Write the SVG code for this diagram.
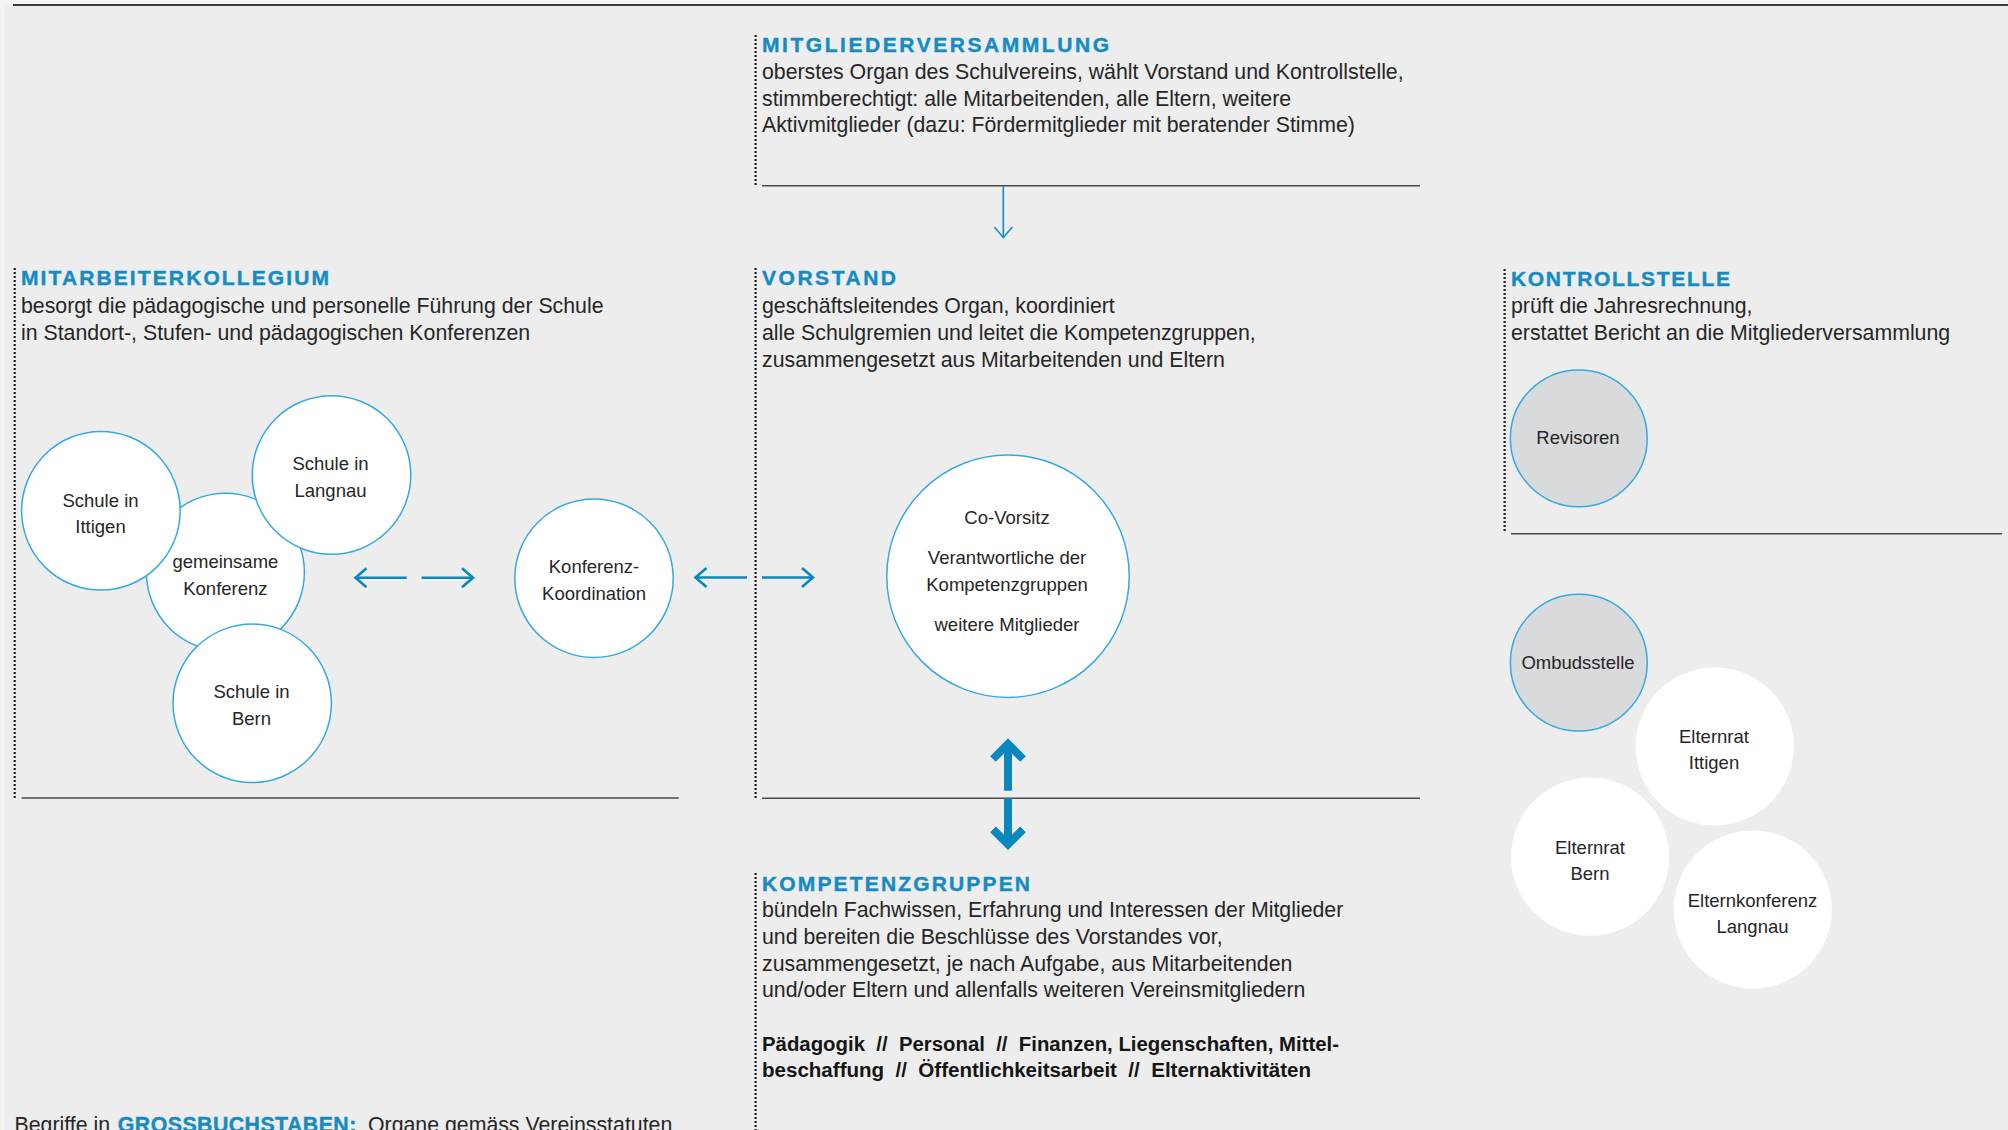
<svg xmlns="http://www.w3.org/2000/svg" width="2008" height="1130" viewBox="0 0 2008 1130">
<style>
.t{font-family:"Liberation Sans",Arial,sans-serif;font-size:21.3px;fill:#262626}
.h{font-family:"Liberation Sans",Arial,sans-serif;font-size:21px;font-weight:bold;fill:#168BC2;stroke:#168BC2;stroke-width:0.4}
.b{font-family:"Liberation Sans",Arial,sans-serif;font-size:20px;font-weight:bold;fill:#151515}
.c{font-family:"Liberation Sans",Arial,sans-serif;font-size:18.5px;fill:#262626;text-anchor:middle}
.circ{fill:#fff;stroke:#36A9E1;stroke-width:1.5}
.grey{fill:#D9DADC;stroke:#36A9E1;stroke-width:1.5}
.plain{fill:#fff}
.dot{stroke:#1e1e1e;stroke-width:2.2;stroke-dasharray:2 2;fill:none}
.rule{stroke:#4a4a4a;stroke-width:1.6}
.arr{stroke:#0A88BE;stroke-width:2.6;fill:none}
.thin{stroke:#1A90C9;stroke-width:1.7;fill:none}
.thick{stroke:#0A88BE;stroke-width:8;fill:none;stroke-linejoin:miter}
</style>
<defs>
<marker id="chev" viewBox="-14 -12 16 24" refX="0" refY="0" markerWidth="16" markerHeight="24" markerUnits="userSpaceOnUse" orient="auto" overflow="visible">
<path d="M-11,-9.5 L0,0 L-11,9.5" fill="none" stroke="#0A88BE" stroke-width="2.6"/>
</marker>
<marker id="chevS" viewBox="-12 -11 14 22" refX="0" refY="0" markerWidth="14" markerHeight="22" markerUnits="userSpaceOnUse" orient="auto" overflow="visible">
<path d="M-10.5,-9 L0,0 L-10.5,9" fill="none" stroke="#1A90C9" stroke-width="1.7"/>
</marker>
</defs>

<rect x="0" y="0" width="2008" height="1130" fill="#F4F4F4"/>
<rect x="4.5" y="4" width="2004" height="1126" fill="#ECEDEC"/>
<line x1="13" y1="5" x2="2008" y2="5" stroke="#3c3c3c" stroke-width="2"/>

<g id="mitgliederversammlung">
<line class="dot" x1="755.6" y1="35" x2="755.6" y2="186"/>
<text class="h" x="762" y="51.7" textLength="347" lengthAdjust="spacing">MITGLIEDERVERSAMMLUNG</text>
<text class="t" x="762" y="78.8">oberstes Organ des Schulvereins, wählt Vorstand und Kontrollstelle,</text>
<text class="t" x="762" y="105.5">stimmberechtigt: alle Mitarbeitenden, alle Eltern, weitere</text>
<text class="t" x="762" y="132.2">Aktivmitglieder (dazu: Fördermitglieder mit beratender Stimme)</text>
<line class="rule" x1="762" y1="185.7" x2="1420" y2="185.7"/>
</g>

<g id="mitarbeiterkollegium">
<line class="dot" x1="14.7" y1="268" x2="14.7" y2="798"/>
<text class="h" x="21" y="285" textLength="308" lengthAdjust="spacing">MITARBEITERKOLLEGIUM</text>
<text class="t" x="21" y="313.3">besorgt die pädagogische und personelle Führung der Schule</text>
<text class="t" x="21" y="340">in Standort-, Stufen- und pädagogischen Konferenzen</text>
<line class="rule" x1="21.5" y1="798" x2="678.7" y2="798"/>
</g>

<g id="vorstand">
<line class="dot" x1="755.6" y1="268" x2="755.6" y2="798"/>
<text class="h" x="762" y="285" textLength="134" lengthAdjust="spacing">VORSTAND</text>
<text class="t" x="762" y="313.3">geschäftsleitendes Organ, koordiniert</text>
<text class="t" x="762" y="340">alle Schulgremien und leitet die Kompetenzgruppen,</text>
<text class="t" x="762" y="366.7">zusammengesetzt aus Mitarbeitenden und Eltern</text>
<line class="rule" x1="762" y1="798.3" x2="1420" y2="798.3"/>
</g>

<g id="kontrollstelle">
<line class="dot" x1="1504.6" y1="269" x2="1504.6" y2="533"/>
<text class="h" x="1511" y="286" textLength="219" lengthAdjust="spacing">KONTROLLSTELLE</text>
<text class="t" x="1511" y="312.7">prüft die Jahresrechnung,</text>
<text class="t" x="1511" y="340">erstattet Bericht an die Mitgliederversammlung</text>
<line class="rule" x1="1511" y1="533.7" x2="2002" y2="533.7"/>
</g>

<g id="kompetenzgruppen">
<line class="dot" x1="755.6" y1="873" x2="755.6" y2="1130"/>
<text class="h" x="762" y="890.7" textLength="268" lengthAdjust="spacing">KOMPETENZGRUPPEN</text>
<text class="t" x="762" y="917.3">bündeln Fachwissen, Erfahrung und Interessen der Mitglieder</text>
<text class="t" x="762" y="944">und bereiten die Beschlüsse des Vorstandes vor,</text>
<text class="t" x="762" y="970.7">zusammengesetzt, je nach Aufgabe, aus Mitarbeitenden</text>
<text class="t" x="762" y="997.3">und/oder Eltern und allenfalls weiteren Vereinsmitgliedern</text>
<text class="b" x="762" y="1050.7" xml:space="preserve" textLength="577" lengthAdjust="spacingAndGlyphs">Pädagogik  //  Personal  //  Finanzen, Liegenschaften, Mittel-</text>
<text class="b" x="762" y="1077.3" xml:space="preserve" textLength="549" lengthAdjust="spacingAndGlyphs">beschaffung  //  Öffentlichkeitsarbeit  //  Elternaktivitäten</text>
</g>

<g id="legende">
<text class="t" y="1131.5"><tspan x="14.5">Begriffe in</tspan><tspan x="117.8" font-weight="bold" fill="#168BC2" stroke="#168BC2" stroke-width="0.4" textLength="238.5" lengthAdjust="spacing">GROSSBUCHSTABEN:</tspan><tspan x="368">Organe gemäss Vereinsstatuten</tspan></text>
</g>

<g id="gemeinsame-konferenz">
<circle class="circ" cx="225.4" cy="572.3" r="79"/>
<text class="c" x="225.4" y="568">gemeinsame</text>
<text class="c" x="225.4" y="594.5">Konferenz</text>
</g>
<g id="schule-ittigen">
<circle class="circ" cx="100.9" cy="510.8" r="79.3"/>
<text class="c" x="100.5" y="506.7">Schule in</text>
<text class="c" x="100.5" y="533.3">Ittigen</text>
</g>
<g id="schule-langnau">
<circle class="circ" cx="331.5" cy="475" r="79.3"/>
<text class="c" x="330.5" y="470">Schule in</text>
<text class="c" x="330.5" y="496.7">Langnau</text>
</g>
<g id="schule-bern">
<circle class="circ" cx="252.2" cy="703.3" r="79.2"/>
<text class="c" x="251.5" y="698.3">Schule in</text>
<text class="c" x="251.5" y="725">Bern</text>
</g>
<g id="konferenz-koordination">
<circle class="circ" cx="594" cy="578.2" r="79.2"/>
<text class="c" x="594" y="573.3">Konferenz-</text>
<text class="c" x="594" y="600">Koordination</text>
</g>
<g id="vorstand-kreis">
<circle class="circ" cx="1008" cy="576.2" r="121.2"/>
<text class="c" x="1007" y="524">Co-Vorsitz</text>
<text class="c" x="1007" y="564">Verantwortliche der</text>
<text class="c" x="1007" y="590.7">Kompetenzgruppen</text>
<text class="c" x="1007" y="630.7">weitere Mitglieder</text>
</g>
<g id="revisoren">
<circle class="grey" cx="1578.8" cy="438.3" r="68.4"/>
<text class="c" x="1578" y="443.5">Revisoren</text>
</g>
<g id="ombudsstelle">
<circle class="grey" cx="1578.8" cy="662.7" r="68.4"/>
<text class="c" x="1578" y="669">Ombudsstelle</text>
</g>
<g id="elternrat-ittigen">
<circle class="plain" cx="1714.7" cy="746.5" r="79.1"/>
<text class="c" x="1714" y="742.7">Elternrat</text>
<text class="c" x="1714" y="769.3">Ittigen</text>
</g>
<g id="elternrat-bern">
<circle class="plain" cx="1590.1" cy="856.7" r="79.1"/>
<text class="c" x="1590" y="854">Elternrat</text>
<text class="c" x="1590" y="880">Bern</text>
</g>
<g id="elternkonferenz-langnau">
<circle class="plain" cx="1752.7" cy="909.5" r="79.1"/>
<text class="c" x="1752.5" y="906.7">Elternkonferenz</text>
<text class="c" x="1752.5" y="933.3">Langnau</text>
</g>

<g id="connectors">
<line class="thin" x1="1003.3" y1="186" x2="1003.3" y2="237.5" marker-end="url(#chevS)"/>
<line class="arr" x1="406.7" y1="577.7" x2="355.5" y2="577.7" marker-end="url(#chev)"/>
<line class="arr" x1="421.7" y1="577.7" x2="473" y2="577.7" marker-end="url(#chev)"/>
<line class="arr" x1="747" y1="577.5" x2="695.5" y2="577.5" marker-end="url(#chev)"/>
<line class="arr" x1="762" y1="577.5" x2="813" y2="577.5" marker-end="url(#chev)"/>
<path class="thick" d="M1008,790.7 L1008,746 M993,759 L1008,744 L1023,759"/>
<path class="thick" d="M1008,798.6 L1008,842 M993,829.3 L1008,844.3 L1023,829.3"/>
</g>
</svg>
